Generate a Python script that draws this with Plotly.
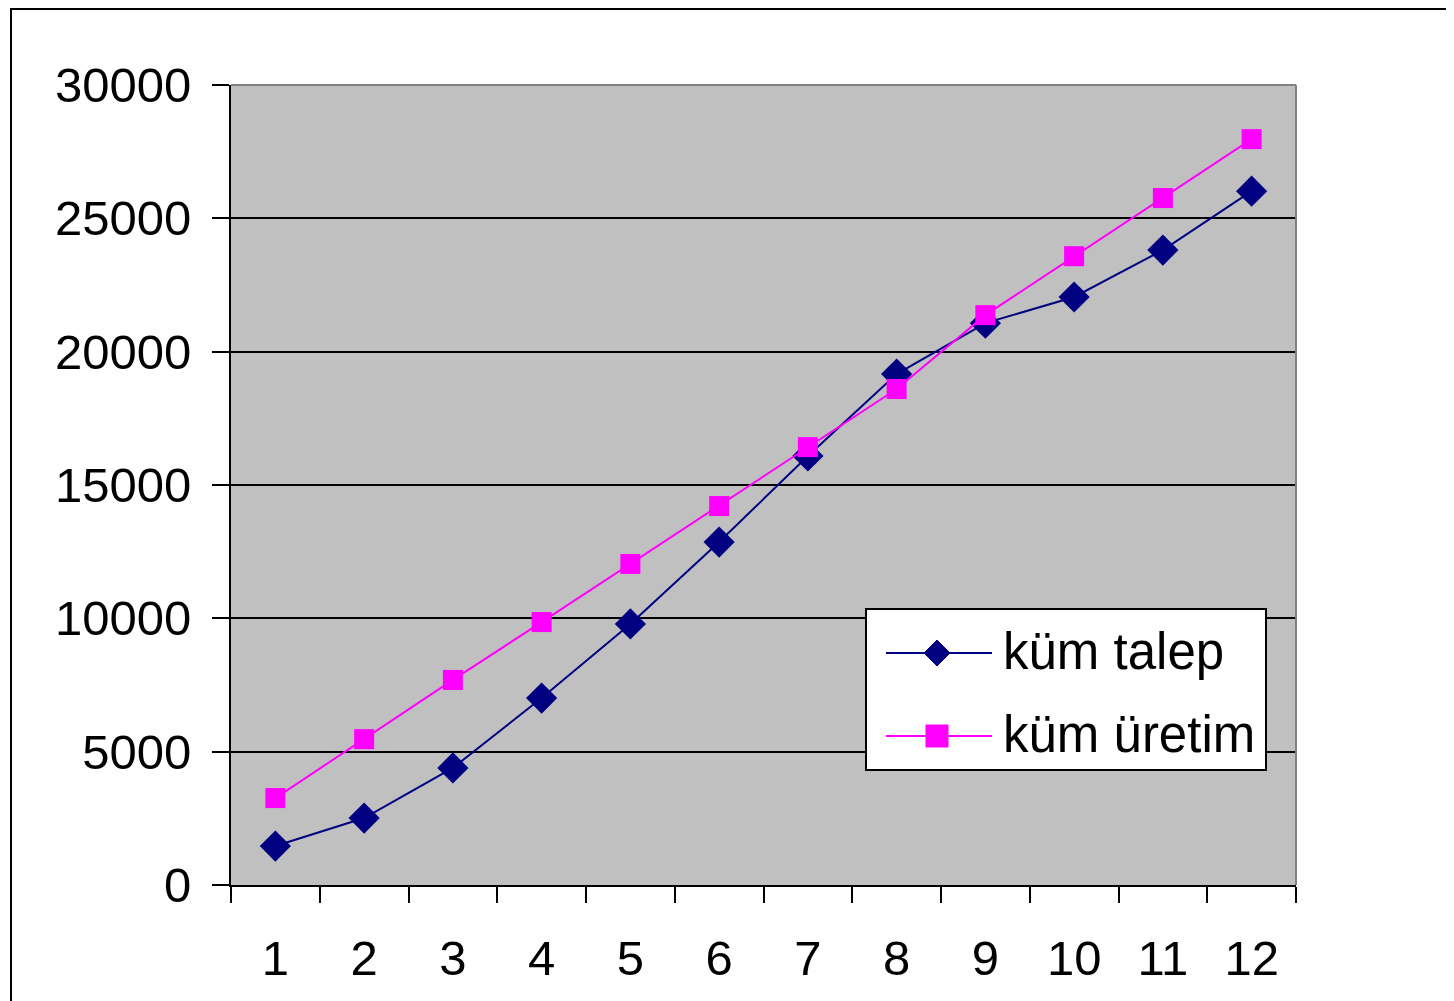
import plotly.graph_objects as go

months = ["1", "2", "3", "4", "5", "6", "7", "8", "9", "10", "11", "12"]
kum_talep = [1460, 2510, 4390, 7010, 9790, 12860, 16090, 19160, 21070, 22050, 23810, 26020]
kum_uretim = [3260, 5470, 7690, 9860, 12040, 14210, 16420, 18600, 21370, 23580, 25760, 27970]
y_ticks = [0, 5000, 10000, 15000, 20000, 25000, 30000]
series_names = ["küm talep", "küm üretim"]
series_colors = ["#000080", "#FF00FF"]

# page offset of the figure (body margin) and target plot area in window pixels
OFF = 8
PL, PR, PT, PB = 231, 1296, 85, 885
W, H = 1454 - OFF, 1001 - OFF
L, T = PL - OFF, PT - OFF
pw, ph = PR - PL, PB - PT
R, B = W - L - pw, H - T - ph


def px(x):
    return (x - PL) / pw


def py(y):
    return (PB - y) / ph


FONT = "Liberation Sans, Arial, sans-serif"
FS = 49
LFS = 51

fig = go.Figure()
fig.add_trace(go.Scatter(
    x=months, y=kum_talep, name=series_names[0], mode="lines+markers",
    line=dict(color=series_colors[0], width=2),
    marker=dict(symbol="diamond", size=24, color=series_colors[0]),
))
fig.add_trace(go.Scatter(
    x=months, y=kum_uretim, name=series_names[1], mode="lines+markers",
    line=dict(color=series_colors[1], width=2),
    marker=dict(symbol="square", size=20, color=series_colors[1]),
))

shapes = [
    # plot area top and right borders (gray)
    dict(type="line", xref="paper", yref="paper", x0=0, x1=1, y0=1, y1=1,
         line=dict(color="#808080", width=2), layer="above"),
    dict(type="line", xref="paper", yref="paper", x0=1, x1=1, y0=0, y1=1,
         line=dict(color="#808080", width=2), layer="above"),
    # outer chart frame
    dict(type="rect", xref="paper", yref="paper",
         x0=px(11), x1=px(1480), y0=py(1030), y1=py(9),
         line=dict(color="black", width=2), fillcolor="rgba(0,0,0,0)"),
    # legend box
    dict(type="rect", xref="paper", yref="paper",
         x0=px(866), x1=px(1266), y0=py(770), y1=py(609),
         line=dict(color="black", width=2), fillcolor="white", layer="above"),
]

annotations = []
leg_rows = [653, 736]
for i, (name, col) in enumerate(zip(series_names, series_colors)):
    yc = leg_rows[i]
    shapes.append(dict(type="line", xref="paper", yref="paper",
                       x0=px(886), x1=px(992), y0=py(yc), y1=py(yc),
                       line=dict(color=col, width=2), layer="above"))
    if i == 0:
        h = 13
        path = (f"M {px(937)},{py(yc - h)} L {px(937 + h)},{py(yc)} "
                f"L {px(937)},{py(yc + h)} L {px(937 - h)},{py(yc)} Z")
    else:
        h = 11
        path = (f"M {px(937 - h)},{py(yc - h)} L {px(937 + h)},{py(yc - h)} "
                f"L {px(937 + h)},{py(yc + h)} L {px(937 - h)},{py(yc + h)} Z")
    shapes.append(dict(type="path", xref="paper", yref="paper", path=path,
                       fillcolor=col, line=dict(color=col, width=1), layer="above"))
    annotations.append(dict(xref="paper", yref="paper", x=px(1001), y=py(yc - 2),
                            xanchor="left", yanchor="middle", showarrow=False,
                            text=name, font=dict(family=FONT, size=LFS, color="black")))

fig.update_layout(
    width=W, height=H,
    margin=dict(l=L, r=R, t=T, b=B, autoexpand=False),
    paper_bgcolor="white",
    plot_bgcolor="#C0C0C0",
    font=dict(family=FONT, size=FS, color="black"),
    showlegend=False,
    xaxis=dict(
        type="category", tickson="boundaries", range=[-0.5, 11.5],
        showgrid=False, showline=True, linecolor="black", linewidth=2,
        ticks="outside", ticklen=16, tickwidth=2, tickcolor="black",
        tickfont=dict(family=FONT, size=FS, color="black"),
        ticklabelstandoff=29,
        zeroline=False,
    ),
    yaxis=dict(
        range=[0, 30000], tickvals=y_ticks,
        ticktext=[str(v) for v in y_ticks],
        showgrid=True, gridcolor="black", gridwidth=2,
        showline=True, linecolor="black", linewidth=2,
        ticks="outside", ticklen=17, tickwidth=2, tickcolor="black",
        tickfont=dict(family=FONT, size=FS, color="black"),
        ticklabelstandoff=11,
        zeroline=False,
    ),
    shapes=shapes,
    annotations=annotations,
)

fig.write_html("out.html")
